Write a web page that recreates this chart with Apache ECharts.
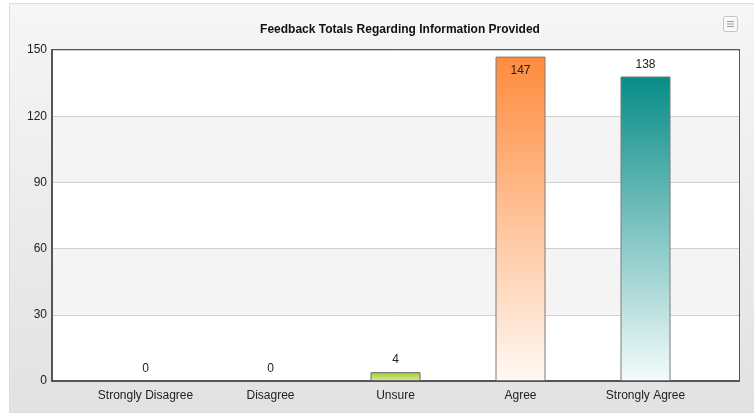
<!DOCTYPE html>
<html>
<head>
<meta charset="utf-8">
<script src="https://cdn.jsdelivr.net/npm/echarts@6/dist/echarts.min.js"></script>
<style>
    html, body { margin: 0; padding: 0; background: #fff; }
    #wrap {
        position: absolute; left: 9px; top: 3px; width: 760px; height: 408px;
        border: 1px solid #dcdcdc;
        background: linear-gradient(to bottom, #f6f6f6, #e2e2e2);
    }
    #chart { position: absolute; left: 0; top: 0; width: 754px; height: 415px; }
</style>
</head>
<body>
<div id="wrap"></div>
<div id="chart"></div>
<script>
var categories = ['Strongly Disagree', 'Disagree', 'Unsure', 'Agree', 'Strongly Agree'];
var totals = [0, 0, 4, 147, 138];
var yTicks = [0, 30, 60, 90, 120, 150];

// top / bottom colour of each bar's gradient
var topColors = ['#9cc41f', '#9cc41f', '#a2cc26', '#ff8b3d', '#078c87'];
var bottomColors = ['#d9ee9c', '#d9ee9c', '#d6eca0', '#fff9f4', '#f4fbfb'];

var grad = function (i) {
    return new echarts.graphic.LinearGradient(0, 0, 0, 1, [
        {offset: 0, color: topColors[i]},
        {offset: 1, color: bottomColors[i]}
    ]);
};

var barData = totals.map(function (v, i) {
    var item = {
        value: v,
        itemStyle: {
            color: grad(i),
            borderColor: i === 2 ? '#6a6a6a' : '#7a7a7a',
            borderWidth: v === 0 ? 0 : 1
        }
    };
    if (v > 140) {
        item.label = {position: 'insideTop', distance: 8};
    }
    return item;
});

var font = 'Liberation Sans, Arial';
var yMin = yTicks[0], yMax = yTicks[yTicks.length - 1], yStep = yTicks[1] - yTicks[0];

var chart = echarts.init(document.getElementById('chart'));
var option = {
    animation: false,
    title: {
        text: 'Feedback Totals Regarding Information Provided',
        left: 395,
        textAlign: 'center',
        top: 19,
        textStyle: {fontFamily: font, fontSize: 12, fontWeight: 'bold', color: '#111'}
    },
    grid: [
        // full plot frame
        {left: 52, right: 15, top: 50, bottom: 34,
            show: true, borderColor: '#555', borderWidth: 2, backgroundColor: '#fff'},
        // inner band where the categories sit
        {left: 83, right: 46, top: 50, bottom: 34}
    ],
    xAxis: [{
        gridIndex: 0,
        type: 'category',
        data: categories,
        axisLine: {lineStyle: {color: '#555', width: 2}},
        axisTick: {show: false},
        axisLabel: {show: false}
    }, {
        gridIndex: 1,
        type: 'category',
        data: categories,
        axisLine: {show: false},
        axisTick: {show: false},
        axisLabel: {fontFamily: font, fontSize: 12, color: '#222', margin: 9}
    }],
    yAxis: [{
        gridIndex: 0,
        type: 'value',
        min: yMin, max: yMax, interval: yStep,
        axisLine: {show: true, lineStyle: {color: '#555', width: 2}},
        axisTick: {show: false},
        axisLabel: {fontFamily: font, fontSize: 12, color: '#222', margin: 5},
        splitLine: {lineStyle: {color: '#cfcfcf', width: 1}},
        splitArea: {show: true, areaStyle: {color: ['#ffffff', '#f4f4f4']}}
    }, {
        gridIndex: 1,
        type: 'value',
        min: yMin, max: yMax, interval: yStep,
        show: false
    }],
    graphic: [{
        type: 'group', left: 723, top: 16,
        children: [
            {type: 'rect', shape: {x: 0.5, y: 0.5, width: 14, height: 15, r: 2},
                style: {fill: '#f9f9f9', stroke: '#c4c4c4', lineWidth: 1}},
            {type: 'line', shape: {x1: 4, y1: 5.5, x2: 11, y2: 5.5}, style: {stroke: '#999', lineWidth: 1}},
            {type: 'line', shape: {x1: 4, y1: 8, x2: 11, y2: 8}, style: {stroke: '#999', lineWidth: 1}},
            {type: 'line', shape: {x1: 4, y1: 10.5, x2: 11, y2: 10.5}, style: {stroke: '#999', lineWidth: 1}}
        ]
    }],
    series: [{
        name: 'Totals',
        type: 'bar',
        xAxisIndex: 1,
        yAxisIndex: 1,
        barWidth: 50,
        data: barData,
        label: {
            show: true,
            position: 'top',
            distance: 6,
            fontFamily: font,
            fontSize: 12,
            color: '#222'
        }
    }]
};
chart.setOption(option);
</script>
</body>
</html>
